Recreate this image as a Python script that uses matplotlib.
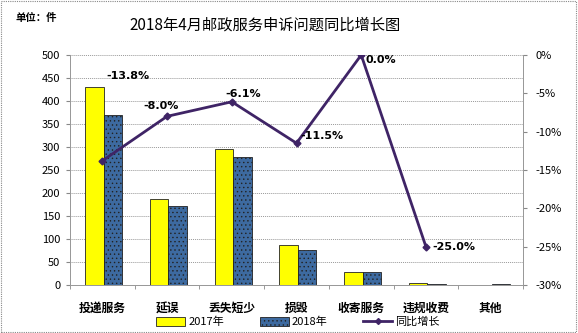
import matplotlib
matplotlib.use("Agg")
import matplotlib.pyplot as plt
import matplotlib.patches as patches
from matplotlib.lines import Line2D
import numpy as np

plt.rcParams['font.family'] = ['Noto Sans CJK SC', 'DejaVu Sans']
plt.rcParams['hatch.color'] = '#24466f'
plt.rcParams['hatch.linewidth'] = 0.5

# data
categories = ['投递服务', '延误', '丢失短少', '损毁', '收寄服务', '违规收费', '其他']
v2017 = [430, 187, 296, 87, 28, 4, 0]
v2018 = [370, 172, 278, 77, 28, 3, 2]
growth = [-13.8, -8.0, -6.1, -11.5, 0.0, -25.0]
# label offsets in pixels (dx, dy) relative to point
label_off = [(4, 85), (-24, 10), (-6, 8), (4, 7), (4, -5), (6, 0)]

fig = plt.figure(figsize=(5.78, 3.33), dpi=100)
ax = fig.add_axes([70/578, 1-285/333, 453/578, 230/333])
ax2 = ax.twinx()

x = np.arange(len(categories))
w = 0.285
ax.bar(x - w/2 + 0.02, v2017, w, color='#ffff00', edgecolor='#222222', linewidth=0.6, zorder=2, label='2017年')
ax.bar(x + w/2 + 0.02, v2018, w, color='#3d6aa0', edgecolor='#222222', linewidth=0.6, hatch='....', zorder=2, label='2018年')

ax.set_xlim(-0.5, len(categories) - 0.5)
ax.set_ylim(0, 500)
ax.set_yticks(np.arange(0, 501, 50))
ax.yaxis.grid(True, linestyle=(0, (1, 1)), color='#999999', linewidth=0.7)
ax.set_axisbelow(True)

ax.set_xticks(x)
ax.set_xticklabels(categories, fontsize=8.5, fontweight='bold')
ax.set_xticks(np.arange(-0.5, len(categories)), minor=True)
ax.tick_params(axis='x', which='major', length=0, pad=12)
ax.tick_params(axis='x', which='minor', length=3, color='#888888')
ax.tick_params(axis='y', length=3, color='#888888', labelsize=8, pad=4)

for a in (ax, ax2):
    a.spines['top'].set_visible(False)
    for s in ('left', 'right', 'bottom'):
        a.spines[s].set_color('#999999')
        a.spines[s].set_linewidth(0.7)

ax2.plot(x[:len(growth)], growth, color='#3f2466', linewidth=2, marker='D', markersize=3.5,
         markerfacecolor='#3f2466', zorder=3)
ax2.set_ylim(-30, 0)
ax2.set_yticks(np.arange(-30, 1, 5))
ax2.set_yticklabels([f'{v}%' for v in range(-30, 1, 5)])
ax2.tick_params(axis='y', length=3, color='#888888', labelsize=8, pad=6)

for xi, g, off in zip(x, growth, label_off):
    ax2.annotate(f'{g:.1f}%', (xi, g), xytext=off, textcoords='offset pixels',
                 ha='left', va='center', fontsize=8, fontweight='bold', family='DejaVu Sans')

fig.text(265/578, 1-25/333, '2018年4月邮政服务申诉问题同比增长图', ha='center', va='center', fontsize=11)
fig.text(15/578, 1-18/333, '单位：件', ha='left', va='center', fontsize=7.5, fontweight='bold')

handles = [patches.Patch(facecolor='#ffff00', edgecolor='#222222', linewidth=0.6),
           patches.Patch(facecolor='#3d6aa0', edgecolor='#222222', linewidth=0.6, hatch='....'),
           Line2D([0], [0], color='#3f2466', linewidth=2, marker='D', markersize=3)]
fig.legend(handles, ['2017年', '2018年', '同比增长'], loc='center', bbox_to_anchor=(298/578, 1-322/333),
           ncol=3, frameon=False, fontsize=8, handlelength=2.6, handleheight=0.8, columnspacing=3.2,
           handletextpad=0.3, borderpad=0)

fig.patches.append(patches.Rectangle((0.002, 0.003), 0.995, 0.994, transform=fig.transFigure,
                                     fill=False, edgecolor='#888888', linewidth=0.8, linestyle=(0, (1, 1))))

fig.savefig('out.png', dpi=100)
